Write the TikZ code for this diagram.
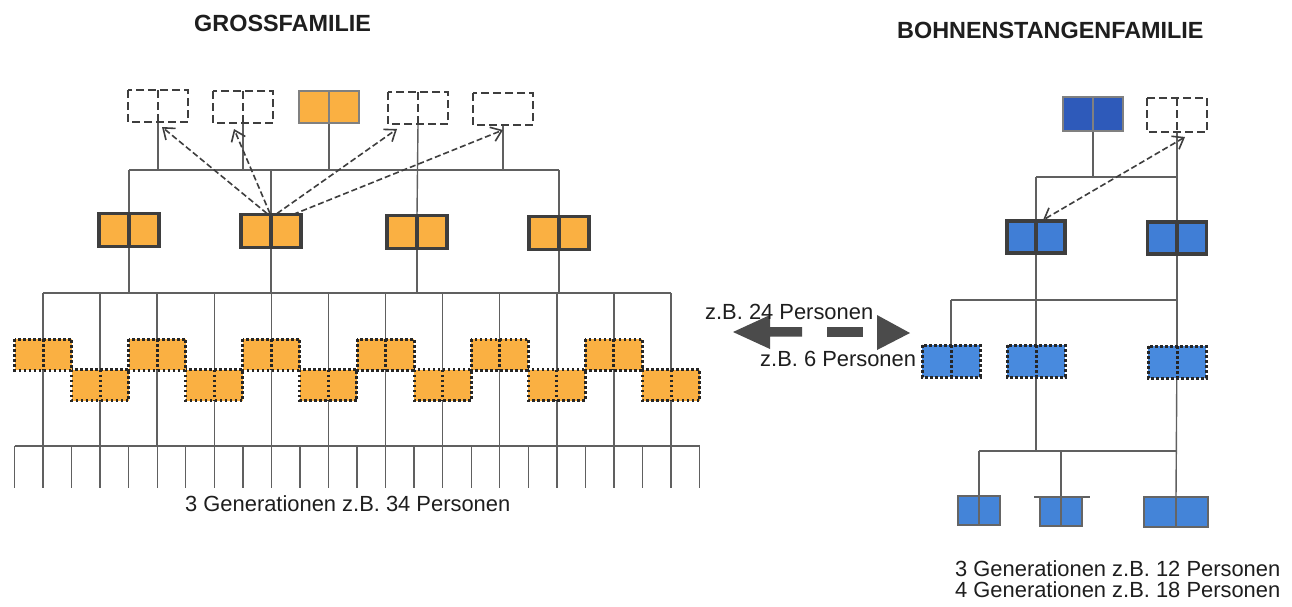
\documentclass[tikz,border=0pt]{standalone}
\usepackage{fontspec}
\setmainfont{Liberation Sans}
\usetikzlibrary{calc,arrows.meta}
\definecolor{orng}{RGB}{250,176,66}
\definecolor{bluetop}{RGB}{46,90,186}
\definecolor{bluemid}{RGB}{64,126,214}
\definecolor{bluelow}{RGB}{72,138,222}
\definecolor{bluebot}{RGB}{68,132,216}
\definecolor{lncol}{RGB}{96,96,96}
\definecolor{dkcol}{RGB}{62,62,62}
\definecolor{txcol}{RGB}{30,30,30}
\definecolor{arrcol}{RGB}{75,75,75}
\begin{document}
\begin{tikzpicture}[x=1pt,y=-1pt,
  ln/.style={draw=lncol,line width=1.4pt},
  cpl/.style={rectangle,inner sep=0pt,outer sep=0pt,minimum width=60pt,minimum height=32pt},
  dashbrd/.style={draw=dkcol,line width=2.7pt,dash pattern=on 8pt off 4pt},
  greybrd/.style={draw=gray,line width=2.4pt},
  thickbrd/.style={draw=dkcol,line width=3.4pt},
  dotbrd/.style={draw=black!85,line width=3pt,dash pattern=on 2.6pt off 2.4pt},
  thinbrd/.style={draw=dkcol!80,line width=1.6pt},
  barb/.tip={Straight Barb[length=10pt,width=15pt,line width=1.6pt]},
  darr/.style={draw=dkcol,line width=1.6pt,dash pattern=on 6pt off 3pt,-barb},
  dbarr/.style={draw=dkcol,line width=1.6pt,dash pattern=on 6pt off 3pt,barb-barb},
  txt/.style={anchor=base west,inner sep=0pt,text=txcol,font=\fontsize{21.9}{26}\selectfont},
  ttl/.style={anchor=base west,inner sep=0pt,text=txcol,font=\fontsize{23.4}{28}\selectfont\bfseries},
  bigarr/.style={fill=arrcol,draw=none}
]
\useasboundingbox[fill=white] (0,0) rectangle (1292,606);

% ---------- titles ----------
\node[ttl] (title1) at (194,31) {GROSSFAMILIE};
\node[ttl] (title2) at (897,38) {BOHNENSTANGENFAMILIE};

% ---------- left: node positions ----------
\node[cpl] (g1) at (158,106) {};
\node[cpl] (g2) at (243,107) {};
\node[cpl] (g3) at (329,107) {};
\node[cpl] (g4) at (418,108) {};
\node[cpl] (g5) at (503,109) {};
\node[cpl,minimum height=33pt] (m1) at (129,230) {};
\node[cpl,minimum height=33pt] (m2) at (271,231) {};
\node[cpl,minimum height=33pt] (m3) at (417,232) {};
\node[cpl,minimum height=33pt] (m4) at (559,233) {};
\foreach \i in {0,...,11} {
  \pgfmathsetmacro\cx{43+57.09*\i}
  \ifodd\i
    \node[cpl,minimum width=57pt,minimum height=31pt] (q\i) at (\cx,385) {};
  \else
    \node[cpl,minimum width=57pt,minimum height=31pt] (q\i) at (\cx,354.5) {};
  \fi
}

% ---------- left: connecting lines ----------
\coordinate (L1w) at (129,170);
\coordinate (L1e) at (559,170);
\coordinate (L2w) at (43,293);
\coordinate (L2e) at (671,293);
\coordinate (L3w) at (14.5,446);
\coordinate (L3e) at (699.5,446);
\draw[ln] (L1w) -- (L1e);
\draw[ln] (L2w) -- (L2e);
\draw[ln] (L3w) -- (L3e);
\foreach \n in {g1,g2,g3,g5} \draw[ln] (\n.south) -- (\n.south |- L1w);
\draw[ln] (g4.south) -- (m3.north);
\foreach \n in {m1,m2,m4} \draw[ln] (\n.north |- L1w) -- (\n.north);
\foreach \n in {m1,m2,m3,m4} \draw[ln] (\n.north) -- (\n.south |- L2w);
\foreach \i in {0,...,11} \draw[ln] (q\i.north |- L2w) -- (q\i.south |- L3w);
\foreach \j in {0,...,24} {
  \coordinate (tk\j) at (14.5+28.545*\j,446);
  \draw[ln] (tk\j) -- ++(0,42);
}

% ---------- left: boxes ----------
\foreach \n in {g1,g2,g4} {
  \draw[dashbrd,fill=white] (\n.north west) rectangle (\n.south east);
  \draw[dashbrd] (\n.north) -- (\n.south);
}
\draw[dashbrd,fill=white] (g5.north west) rectangle (g5.south east);
\draw[greybrd,fill=orng] (g3.north west) rectangle (g3.south east);
\draw[greybrd] (g3.north) -- (g3.south);
\foreach \n in {m1,m2,m3,m4} {
  \draw[thickbrd,fill=orng] (\n.north west) rectangle (\n.south east);
  \draw[thickbrd] (\n.north) -- (\n.south);
}
\foreach \i in {0,...,11} {
  \draw[dotbrd,fill=orng] (q\i.north west) rectangle (q\i.south east);
  \draw[dotbrd] (q\i.north) -- (q\i.south);
}

% ---------- left: dashed arrows ----------
\draw[darr] ($(m2.north)+(-4,-1)$) -- ($(g1.south)+(4,5)$);
\draw[darr] ($(m2.north)+(-1,-1)$) -- ($(g2.south)+(-9,6)$);
\draw[darr] ($(m2.north)+(6,-1)$) -- ($(g4.south)+(-21,5)$);
\draw[darr] ($(m2.north)+(22,0)$) -- ($(g5.south)+(0,5)$);

% ---------- middle comparison arrow ----------
\draw[bigarr] (733,332) -- (770,315) -- (770,327) -- (802,327) -- (802,336.5) -- (770,336.5) -- (770,349) -- cycle;
\draw[bigarr] (827,327) rectangle (863,336.5);
\draw[bigarr] (877,315) -- (910,333) -- (877,350) -- cycle;
\node[txt] (lab24) at (705,319) {z.B. 24 Personen};
\node[txt] (lab6) at (760,366) {z.B. 6 Personen};

% ---------- right: nodes ----------
\node[cpl,minimum height=34pt] (b1) at (1093,114) {};
\node[cpl,minimum height=34pt] (b2) at (1177,115) {};
\node[cpl,minimum width=58pt] (c1) at (1036,237) {};
\node[cpl,minimum width=59pt] (c2) at (1177,238) {};
\node[cpl,minimum width=58pt] (d1) at (951,361) {};
\node[cpl,minimum width=58pt] (d2) at (1036,361) {};
\node[cpl,minimum width=58pt] (d3) at (1177,362) {};
\node[cpl,minimum width=42pt,minimum height=29pt] (e1) at (979,510.5) {};
\node[cpl,minimum width=42pt,minimum height=29pt] (e2) at (1061,511.5) {};
\node[cpl,minimum width=64pt,minimum height=30pt] (e3) at (1176,512) {};

% ---------- right: lines ----------
\coordinate (R1w) at (1036,177);
\coordinate (R1e) at (1177,177);
\coordinate (R2w) at (951,300);
\coordinate (R2e) at (1177,300);
\coordinate (R3w) at (979,451);
\coordinate (R3e) at (1177,451);
\draw[ln] (R1w) -- (R1e);
\draw[ln] (R2w) -- (R2e);
\draw[ln] (R3w) -- (R3e);
\draw[ln] (b1.south) -- (b1.south |- R1w);
\draw[ln] (R1w) -- (c1.north);
\draw[ln] (b2.south) -- (c2.north);
\draw[ln] (c1.north) -- (d2.north);
\draw[ln] (c2.north) -- (d3.north);
\draw[ln] (R2w) -- (d1.north);
\draw[ln] (d2.north) -- (d2.south |- R3w);
\draw[ln] (d3.north) -- (e3.north);
\draw[ln] (R3w) -- (e1.north);
\draw[ln] (e2.north |- R3w) -- (e2.north);
\draw[ln] ($(e2.north west)+(-6,0)$) -- ($(e2.north east)+(8,0)$);

% ---------- right: boxes ----------
\draw[greybrd,fill=bluetop] (b1.north west) rectangle (b1.south east);
\draw[greybrd] (b1.north) -- (b1.south);
\draw[dashbrd,fill=white] (b2.north west) rectangle (b2.south east);
\draw[dashbrd] (b2.north) -- (b2.south);
\foreach \n in {c1,c2} {
  \draw[thickbrd,fill=bluemid] (\n.north west) rectangle (\n.south east);
  \draw[thickbrd] (\n.north) -- (\n.south);
}
\foreach \n in {d1,d2,d3} {
  \draw[dotbrd,fill=bluelow] (\n.north west) rectangle (\n.south east);
  \draw[dotbrd] (\n.north) -- (\n.south);
}
\foreach \n in {e1,e2,e3} {
  \draw[thinbrd,fill=bluebot] (\n.north west) rectangle (\n.south east);
  \draw[thinbrd] (\n.north) -- (\n.south);
}

% ---------- right: dashed double arrow ----------
\draw[dbarr] ($(b2.south)+(8,5)$) -- ($(c1.north)+(7,-1)$);

% ---------- captions ----------
\node[txt] (capL) at (185,511) {3 Generationen z.B. 34 Personen};
\node[txt] (capR1) at (955,576) {3 Generationen z.B. 12 Personen};
\node[txt] (capR2) at (955,597) {4 Generationen z.B. 18 Personen};
\end{tikzpicture}
\end{document}
